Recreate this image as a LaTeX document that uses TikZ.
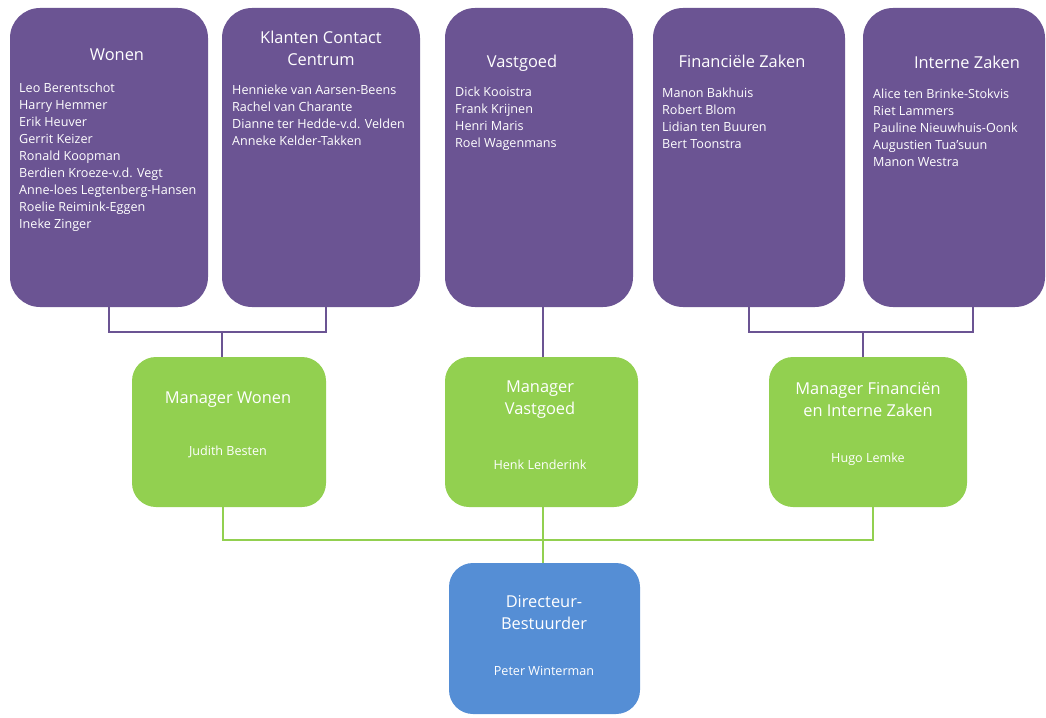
\documentclass[tikz,border=0pt]{standalone}
\usepackage{fontspec}
\setmainfont{Open Sans}
\usetikzlibrary{backgrounds}
\definecolor{purp}{RGB}{107,84,147}
\definecolor{grn}{RGB}{146,208,80}
\definecolor{blu}{RGB}{85,142,213}
\begin{document}
\begin{tikzpicture}[x=1pt,y=-1pt,
 pbox/.style={fill=purp, rounded corners=30pt, draw=none, inner sep=0},
 gbox/.style={fill=grn, rounded corners=24pt, draw=none, inner sep=0, minimum height=150pt},
 bbox/.style={fill=blu, rounded corners=24pt, draw=none, inner sep=0},
 head/.style={text=white, font=\fontsize{16.4}{22}\selectfont, align=center, inner sep=0},
 names/.style={text=white, font=\fontsize{12.6}{17}\selectfont, align=left, anchor=north west, inner sep=0},
 pname/.style={text=white, font=\fontsize{12.6}{15}\selectfont, inner sep=0},
 pline/.style={draw=purp, line width=2.6pt},
 gline/.style={draw=grn, line width=2.6pt},
]
\useasboundingbox (0,0) rectangle (1046,717);
% purple department boxes
\node[pbox, minimum width=198pt, minimum height=299pt] (wonen)  at (109,157.5) {};
\node[pbox, minimum width=198pt, minimum height=299pt] (kcc)    at (321,157.5) {};
\node[pbox, minimum width=188pt, minimum height=299pt] (vast)   at (539,157.5) {};
\node[pbox, minimum width=192pt, minimum height=299pt] (fin)    at (749,157.5) {};
\node[pbox, minimum width=182pt, minimum height=299pt] (intern) at (954,157.5) {};
% green manager boxes
\node[gbox, minimum width=194pt] (mw) at (229,432) {};
\node[gbox, minimum width=193pt] (mv) at (541.5,432) {};
\node[gbox, minimum width=198pt] (mf) at (868,432) {};
% blue director box
\node[bbox, minimum width=191pt, minimum height=151pt] (dir) at (544.5,638.5) {};

% connectors
\coordinate (jw) at (222,332);
\coordinate (jf) at (863,332);
\coordinate (jg) at (543,540);
\begin{scope}[on background layer]
\draw[pline] (wonen.south) |- (jw) -| ([xshift=5pt]kcc.south);
\draw[pline] (jw) -- (jw |- mw.north);
\draw[pline] ([xshift=4pt]vast.south) -- ([xshift=4pt]vast.south |- mv.north);
\draw[pline] (fin.south) |- (jf) -| ([xshift=19pt]intern.south);
\draw[pline] (jf) -- (jf |- mf.north);
\draw[gline] ([xshift=-6pt]mw.south) |- (jg) -| ([xshift=5pt]mf.south);
\draw[gline] (jg |- mv.south) -- (jg) -- (jg |- dir.north);
\end{scope}

% department texts
\node[head] (hwonen) at (117,55) {Wonen};
\node[names] (nwonen) at (19,82.5) {Leo Berentschot\\Harry Hemmer\\Erik Heuver\\Gerrit Keizer\\Ronald Koopman\\Berdien Kroeze-v.d. Vegt\\Anne-loes Legtenberg-Hansen\\Roelie Reimink-Eggen\\Ineke Zinger};
\node[head] (hkcc) at (321,48) {Klanten Contact\\Centrum};
\node[names] (nkcc) at (232,84.5) {Hennieke van Aarsen-Beens\\Rachel van Charante\\Dianne ter Hedde-v.d. Velden\\Anneke Kelder-Takken};
\node[head] (hvast) at (522,63) {Vastgoed};
\node[names] (nvast) at (455,87) {Dick Kooistra\\Frank Krijnen\\Henri Maris\\Roel Wagenmans};
\node[head] (hfin) at (742,61) {Financiële Zaken};
\node[names] (nfin) at (662,87.5) {Manon Bakhuis\\Robert Blom\\Lidian ten Buuren\\Bert Toonstra};
\node[head] (hint) at (967,62) {Interne Zaken};
\node[names] (nint) at (873,88.5) {Alice ten Brinke-Stokvis\\Riet Lammers\\Pauline Nieuwhuis-Oonk\\Augustien Tua'suun\\Manon Westra};

% manager texts
\node[head] (tmw) at (228,400) {Manager Wonen};
\node[pname] (pmw) at (228,452) {Judith Besten};
\node[head] (tmv) at (540,400) {Manager\\Vastgoed};
\node[pname] (pmv) at (540,465) {Henk Lenderink};
\node[head] (tmf) at (868,400) {Manager Financiën\\en Interne Zaken};
\node[pname] (pmf) at (868,459) {Hugo Lemke};

% director texts
\node[head] (tdir) at (544,613) {Directeur-\\Bestuurder};
\node[pname] (pdir) at (544,671) {Peter Winterman};
\end{tikzpicture}
\end{document}
